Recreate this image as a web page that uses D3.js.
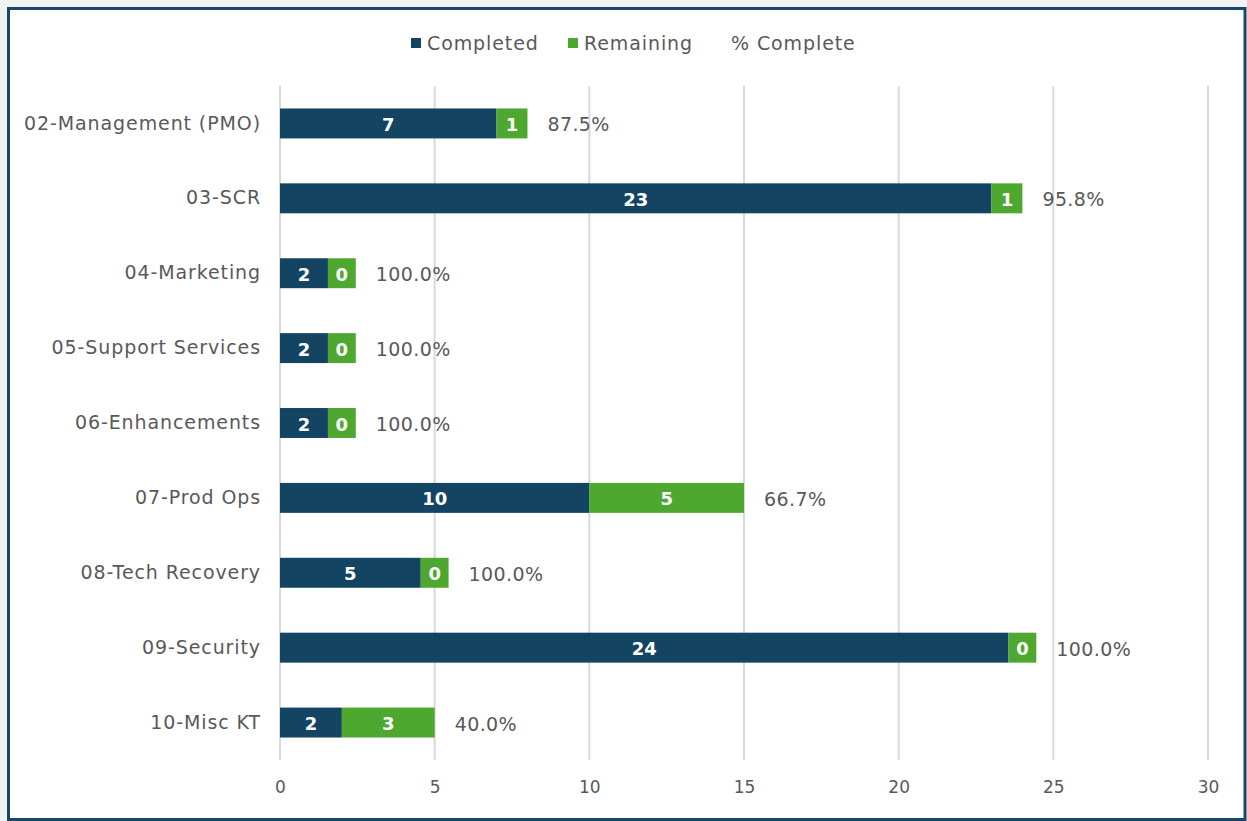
<!DOCTYPE html>
<html><head><meta charset="utf-8">
<script src="https://cdn.jsdelivr.net/npm/d3@7"></script>
<style>
html,body{margin:0;padding:0;background:#fff;}
svg{display:block;}
</style></head>
<body>
<svg id="chart" width="1247" height="821"></svg>
<script>
const categories = ["02-Management (PMO)","03-SCR","04-Marketing","05-Support Services","06-Enhancements","07-Prod Ops","08-Tech Recovery","09-Security","10-Misc KT"];
const completed = [7,23,2,2,2,10,5,24,2];
const remaining = [1,1,0,0,0,5,0,0,3];
const pctComplete = ["87.5%","95.8%","100.0%","100.0%","100.0%","66.7%","100.0%","100.0%","40.0%"];
const xTicks = [0,5,10,15,20,25,30];
const seriesNames = ["Completed","Remaining","% Complete"];

const colors = {completed:"#134563", remaining:"#4ea72e", text:"#595959", grid:"#d9d9d9", border:"#17476a"};
const FONT = "'DejaVu Sans', sans-serif";
// zero-valued "Remaining" segments are still drawn with a small visible width
const MIN_SEG = 0.9;

const svg = d3.select("#chart");
const W = 1247, H = 821;
svg.append("rect").attr("x",0).attr("y",0).attr("width",W).attr("height",H).attr("fill","#f2f2f2");
svg.append("rect").attr("x",8.5).attr("y",8.5).attr("width",1236.5).attr("height",811).attr("fill","#fff")
  .attr("stroke",colors.border).attr("stroke-width",3);

const m = {left:280, right:1208, top:86, bottom:760};
const x = d3.scaleLinear().domain([0,30]).range([m.left,m.right]);
const y = d3.scaleBand().domain(categories).range([m.top,m.bottom]).paddingInner(0.6).paddingOuter(0.3);

// gridlines
svg.append("g").selectAll("line").data(xTicks).join("line")
  .attr("x1",d=>x(d)).attr("x2",d=>x(d)).attr("y1",m.top).attr("y2",m.bottom)
  .attr("stroke",colors.grid).attr("stroke-width",2);

// x axis labels
const xAxis = d3.axisBottom(x).tickValues(xTicks).tickSize(0).tickPadding(0);
const gx = svg.append("g").attr("transform",`translate(0,${m.bottom+21})`).call(xAxis);
gx.select(".domain").remove();
gx.selectAll("text").attr("fill",colors.text).style("font-family",FONT).style("font-size","17px");

// y axis labels
const yAxis = d3.axisLeft(y).tickSize(0).tickPadding(0);
const gy = svg.append("g").attr("transform",`translate(${m.left-19},0)`).call(yAxis);
gy.select(".domain").remove();
gy.selectAll("text").attr("fill",colors.text).style("font-family",FONT).style("font-size","19px").style("letter-spacing","0.9px");

const rows = categories.map((c,i)=>{
  let cEnd = completed[i], rEnd = completed[i]+remaining[i];
  if (remaining[i] === 0) { cEnd = completed[i]-MIN_SEG/2; rEnd = completed[i]+MIN_SEG/2; }
  return {cat:c, c:completed[i], r:remaining[i], cEnd, rEnd, pct:pctComplete[i]};
});

const bh = y.bandwidth();
const g = svg.append("g");
g.selectAll("rect.c").data(rows).join("rect").attr("class","c")
  .attr("x",x(0)).attr("y",d=>y(d.cat)).attr("width",d=>x(d.cEnd)-x(0)).attr("height",bh)
  .attr("fill",colors.completed);
g.selectAll("rect.r").data(rows).join("rect").attr("class","r")
  .attr("x",d=>x(d.cEnd)).attr("y",d=>y(d.cat)).attr("width",d=>x(d.rEnd)-x(d.cEnd)).attr("height",bh)
  .attr("fill",colors.remaining);

const lblStyle = sel => sel.attr("fill","#fff").attr("text-anchor","middle").attr("dominant-baseline","central")
  .style("font-family",FONT).style("font-size","18px").style("font-weight","bold");
g.selectAll("text.cl").data(rows).join("text").attr("class","cl")
  .attr("x",d=>(x(0)+x(d.cEnd))/2).attr("y",d=>y(d.cat)+bh/2+1).text(d=>d.c).call(lblStyle);
g.selectAll("text.rl").data(rows).join("text").attr("class","rl")
  .attr("x",d=>(x(d.cEnd)+x(d.rEnd))/2).attr("y",d=>y(d.cat)+bh/2+1).text(d=>d.r).call(lblStyle);
g.selectAll("text.pl").data(rows).join("text").attr("class","pl")
  .attr("x",d=>x(d.rEnd)+20).attr("y",d=>y(d.cat)+bh/2+1).attr("dominant-baseline","central")
  .attr("fill",colors.text).style("font-family",FONT).style("font-size","19px").style("letter-spacing","0.4px").text(d=>d.pct);

// legend
const leg = svg.append("g").attr("transform","translate(0,43)");
const legItems = [
  {name:seriesNames[0], color:colors.completed, x:411},
  {name:seriesNames[1], color:colors.remaining, x:568},
  {name:seriesNames[2], color:null, x:715}
];
legItems.forEach(it=>{
  if (it.color) leg.append("rect").attr("x",it.x).attr("y",-5).attr("width",10).attr("height",10).attr("fill",it.color);
  leg.append("text").attr("x",it.x+16).attr("y",0).attr("dominant-baseline","central")
    .attr("fill",colors.text).style("font-family",FONT).style("font-size","19px").style("letter-spacing","0.9px").text(it.name);
});
</script>
</body></html>
